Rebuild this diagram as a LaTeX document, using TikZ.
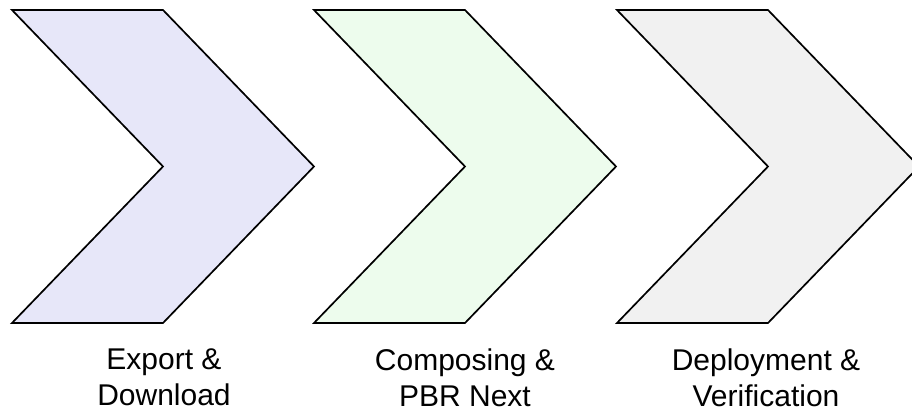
\documentclass[tikz,border=0pt]{standalone}
\usepackage{fontspec}
\setmainfont{Liberation Sans}
\definecolor{stepA}{HTML}{E7E7F9}
\definecolor{stepB}{HTML}{EDFCED}
\definecolor{stepC}{HTML}{F1F1F1}
\tikzset{
  chevron/.style={draw=black, line width=1.7pt, line join=miter},
  steplabel/.style={align=center, font=\fontsize{30}{36}\selectfont, inner sep=0pt}
}
% draws one chevron whose left edge starts at x = #1 (pixel units)
\newcommand{\chevronat}[2]{%
  \path[chevron, fill=#2] (#1,10) -- ++(151,0) -- ++(151,156.5) -- ++(-151,156.5)
     -- ++(-151,0) -- ++(151,-156.5) -- cycle;}
\begin{document}
\begin{tikzpicture}[x=1pt, y=-1pt]
  \useasboundingbox (0,0) rectangle (912,412);
  \begin{scope}
    \clip (0,0) rectangle (912,412);
    \chevronat{12}{stepA}
    \chevronat{314}{stepB}
    \chevronat{617}{stepC}
  \end{scope}
  \node[steplabel, anchor=north] (l1) at (164,349) {Export \&\\Download};
  \node[steplabel, anchor=north] (l2) at (465,349) {Composing \&\\PBR Next};
  \node[steplabel, anchor=north] (l3) at (766,349) {Deployment \&\\Verification};
\end{tikzpicture}
\end{document}
